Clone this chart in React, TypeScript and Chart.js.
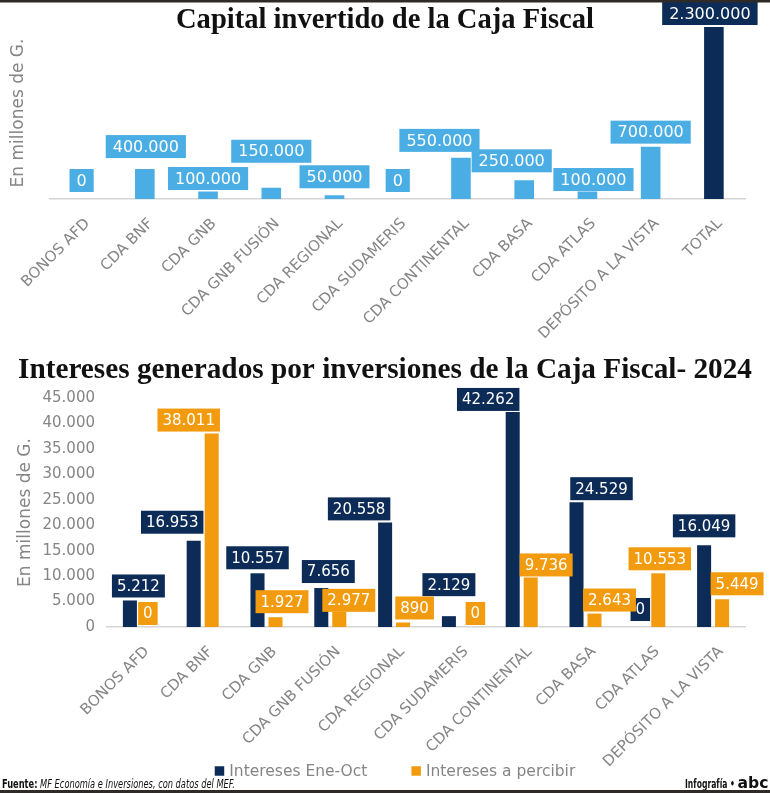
import React, { useEffect, useRef } from 'react';
import { Chart, registerables } from 'chart.js';

Chart.register(...registerables);

// ---------- data ----------
const capitalCategories = [
  'BONOS AFD', 'CDA BNF', 'CDA GNB', 'CDA GNB FUSIÓN', 'CDA REGIONAL', 'CDA SUDAMERIS',
  'CDA CONTINENTAL', 'CDA BASA', 'CDA ATLAS', 'DEPÓSITO A LA VISTA', 'TOTAL',
];
const capitalValues = [0, 400000, 100000, 150000, 50000, 0, 550000, 250000, 100000, 700000, 2300000];

const interestCategories = [
  'BONOS AFD', 'CDA BNF', 'CDA GNB', 'CDA GNB FUSIÓN', 'CDA REGIONAL', 'CDA SUDAMERIS',
  'CDA CONTINENTAL', 'CDA BASA', 'CDA ATLAS', 'DEPÓSITO A LA VISTA',
];
const interesesEneOct = [5212, 16953, 10557, 7656, 20558, 2129, 42262, 24529, 0, 16049];
const interesesAPercibir = [0, 38011, 1927, 2977, 890, 0, 9736, 2643, 10553, 5449];
const interestMax = 45000;
const interestStep = 5000;

const seriesNames = ['Intereses Ene-Oct', 'Intereses a percibir'];

// ---------- layout of value boxes: [x shift, lift above bar top] ----------
const capitalBoxShift = [[0, 7], [1, 11], [0, 1.5], [0, 25], [0, 7], [0, 7], [-21.5, 6], [-12.5, 8], [6, 0.5], [0, 3], [-4, 2]];
const eneOctBoxShift = [[8.5, 3], [-21.5, 7], [0, 4], [7, 5], [-26, 2], [0, 20], [-24.5, 1], [25, 2], [0, 6], [0, 8]];
const percibirBoxShift = [[0, 2], [-23, 2], [6.5, 4], [9.5, 0], [11.5, 3], [8.5, 2], [15.5, 1], [15, 2], [1.5, 3], [15, 4]];

// ---------- styles ----------
const SKY = '#4aaee4';
const NAVY = '#0d2b57';
const ORANGE = '#f29b0e';
const GREY = '#858585';
const SANS = '"DejaVu Sans", sans-serif';

const fmt = (v: number) => String(v).replace(/\B(?=(\d{3})+(?!\d))/g, '.');

function fitText(ctx: CanvasRenderingContext2D, text: string, cx: number, baseline: number, font: string, width: number, color: string) {
  ctx.save();
  ctx.font = font;
  const m = ctx.measureText(text).width;
  ctx.translate(cx, baseline);
  ctx.scale(width / m, 1);
  ctx.textAlign = 'center';
  ctx.textBaseline = 'alphabetic';
  ctx.fillStyle = color;
  ctx.fillText(text, 0, 0);
  ctx.restore();
}

function boxPlugin(shifts: number[][][], font: string, boxH: number, padX: number) {
  return {
    id: 'boxLabels',
    afterDatasetsDraw(chart: any) {
      const ctx = chart.ctx as CanvasRenderingContext2D;
      chart.data.datasets.forEach((ds: any, di: number) => {
        const meta = chart.getDatasetMeta(di);
        meta.data.forEach((bar: any, i: number) => {
          const text = fmt(ds.data[i]);
          ctx.save();
          ctx.font = font;
          const w = ctx.measureText(text).width + padX * 2;
          const cx = bar.x + shifts[di][i][0];
          const bottom = bar.y - shifts[di][i][1];
          ctx.fillStyle = Array.isArray(ds.backgroundColor) ? ds.backgroundColor[i] : ds.backgroundColor;
          ctx.fillRect(cx - w / 2, bottom - boxH, w, boxH);
          ctx.fillStyle = '#ffffff';
          ctx.textAlign = 'center';
          ctx.textBaseline = 'middle';
          ctx.fillText(text, cx, bottom - boxH / 2 + 1);
          ctx.restore();
        });
      });
    },
  };
}

const topDecor = {
  id: 'topDecor',
  afterDraw(chart: any) {
    const ctx = chart.ctx as CanvasRenderingContext2D;
    ctx.save();
    ctx.fillStyle = '#2e2a28';
    ctx.fillRect(0, 0, 770, 2.5);
    ctx.restore();
    fitText(ctx, 'Capital invertido de la Caja Fiscal', 385, 28, 'bold 30px "Liberation Serif", serif', 418, '#111111');
  },
};

const bottomDecor = {
  id: 'bottomDecor',
  afterDraw(chart: any) {
    const ctx = chart.ctx as CanvasRenderingContext2D;
    const H = chart.height;
    fitText(ctx, 'Intereses generados por inversiones de la Caja Fiscal- 2024', 385, 33, 'bold 30px "Liberation Serif", serif', 734, '#111111');

    // legend
    ctx.save();
    const legFont = `15.5px ${SANS}`;
    ctx.font = legFont;
    const sq = 9.5;
    const gapText = 5;
    const gapItem = 44;
    const items = chart.data.datasets.map((ds: any) => ({
      label: ds.label as string,
      color: ds.backgroundColor as string,
      w: sq + gapText + ctx.measureText(ds.label).width,
    }));
    const total = items.reduce((s: number, it: any) => s + it.w, 0) + gapItem * (items.length - 1);
    let x = 395 - total / 2;
    const cy = H - 22;
    items.forEach((it: any) => {
      ctx.fillStyle = it.color;
      ctx.fillRect(x, cy - sq / 2, sq, sq);
      ctx.fillStyle = GREY;
      ctx.textAlign = 'left';
      ctx.textBaseline = 'middle';
      ctx.fillText(it.label, x + sq + gapText, cy + 0.5);
      x += it.w + gapItem;
    });
    ctx.restore();

    // footer
    ctx.save();
    const boldF = 'bold 12px "Liberation Sans Narrow", "DejaVu Sans Condensed", sans-serif';
    const itF = 'italic 12px "Liberation Sans Narrow", "DejaVu Sans Condensed", sans-serif';
    const a = 'Fuente:';
    const b = ' MF Economía e Inversiones, con datos del MEF.';
    ctx.font = boldF;
    const wa = ctx.measureText(a).width;
    ctx.font = itF;
    const wb = ctx.measureText(b).width;
    const k = 233 / (wa + wb);
    ctx.translate(2, H - 5);
    ctx.scale(k, 1);
    ctx.fillStyle = '#111111';
    ctx.textBaseline = 'alphabetic';
    ctx.font = boldF;
    ctx.fillText(a, 0, 0);
    ctx.font = itF;
    ctx.fillText(b, wa, 0);
    ctx.restore();
    fitText(ctx, 'Infografía •', 710, H - 5, 'bold 12px "Liberation Sans Narrow", "DejaVu Sans Condensed", sans-serif', 50, '#111111');
    fitText(ctx, 'abc', 753, H - 5, 'bold 15px "DejaVu Sans", sans-serif', 31, '#111111');
    ctx.save();
    ctx.fillStyle = '#2e2a28';
    ctx.fillRect(0, H - 3, 770, 3);
    ctx.restore();
  },
};

export default function App() {
  const topRef = useRef<HTMLCanvasElement>(null);
  const botRef = useRef<HTMLCanvasElement>(null);

  useEffect(() => {
    const topChart = new Chart(topRef.current as HTMLCanvasElement, {
      type: 'bar',
      data: {
        labels: capitalCategories,
        datasets: [
          {
            data: capitalValues,
            backgroundColor: capitalCategories.map((c) => (c === 'TOTAL' ? NAVY : SKY)),
            categoryPercentage: 1,
            barPercentage: 0.31,
          },
        ],
      },
      options: {
        responsive: false,
        animation: false,
        devicePixelRatio: 1,
        events: [],
        layout: { padding: { top: 27, right: 24.5, bottom: 0, left: 0 } },
        plugins: { legend: { display: false }, tooltip: { enabled: false } },
        scales: {
          x: {
            grid: { display: false, drawTicks: false },
            border: { display: true, color: '#d6d6d6', width: 1.5 },
            ticks: {
              autoSkip: false,
              maxRotation: 45,
              minRotation: 45,
              color: GREY,
              font: { family: SANS, size: 15 },
              padding: 16,
              labelOffset: 6,
            },
            afterFit: (s: any) => { s.height = 146; },
          },
          y: {
            min: 0,
            max: Math.max(...capitalValues),
            grid: { display: false, drawTicks: false },
            border: { display: false },
            ticks: { display: false },
            title: {
              display: true,
              text: 'En millones de G.',
              color: GREY,
              font: { family: SANS, size: 17 },
              padding: { top: 8, bottom: 0 },
            },
            afterFit: (s: any) => { s.width = 49.5; },
          },
        },
      },
      plugins: [boxPlugin([capitalBoxShift], `16px ${SANS}`, 23, 7), topDecor],
    } as any);

    const botChart = new Chart(botRef.current as HTMLCanvasElement, {
      type: 'bar',
      data: {
        labels: interestCategories,
        datasets: [
          {
            label: seriesNames[0],
            data: interesesEneOct,
            backgroundColor: NAVY,
            categoryPercentage: 0.564,
            barPercentage: 0.78,
          },
          {
            label: seriesNames[1],
            data: interesesAPercibir,
            backgroundColor: ORANGE,
            categoryPercentage: 0.564,
            barPercentage: 0.78,
          },
        ],
      },
      options: {
        responsive: false,
        animation: false,
        devicePixelRatio: 1,
        events: [],
        layout: { padding: { top: 53, right: 25, bottom: 0, left: 0 } },
        plugins: {
          tooltip: { enabled: false },
          legend: { display: false },
        },
        scales: {
          x: {
            grid: { display: false, drawTicks: false },
            border: { display: true, color: '#d6d6d6', width: 1.5 },
            ticks: {
              autoSkip: false,
              maxRotation: 45,
              minRotation: 45,
              color: GREY,
              font: { family: SANS, size: 15 },
              padding: 16,
              labelOffset: 8,
            },
            afterFit: (s: any) => { s.height = 166; },
          },
          y: {
            min: 0,
            max: interestMax,
            grid: { display: false, drawTicks: false },
            border: { display: false },
            ticks: {
              stepSize: interestStep,
              color: GREY,
              font: { family: SANS, size: 15 },
              padding: 12,
              callback: (v: any) => fmt(Number(v)),
            },
            title: {
              display: true,
              text: 'En millones de G.',
              color: GREY,
              font: { family: SANS, size: 17 },
              padding: { top: 15, bottom: 0 },
            },
            afterFit: (s: any) => { s.width = 107; },
          },
        },
      },
      plugins: [boxPlugin([eneOctBoxShift, percibirBoxShift], `15px ${SANS}`, 23, 5), bottomDecor],
    } as any);

    return () => {
      topChart.destroy();
      botChart.destroy();
    };
  }, []);

  return (
    <div style={{ position: 'absolute', left: 0, top: 0, width: 770, height: 793, background: '#ffffff' }}>
      <canvas ref={topRef} width={770} height={345} style={{ display: 'block', width: 770, height: 345 }} />
      <canvas ref={botRef} width={770} height={448} style={{ display: 'block', width: 770, height: 448 }} />
    </div>
  );
}
